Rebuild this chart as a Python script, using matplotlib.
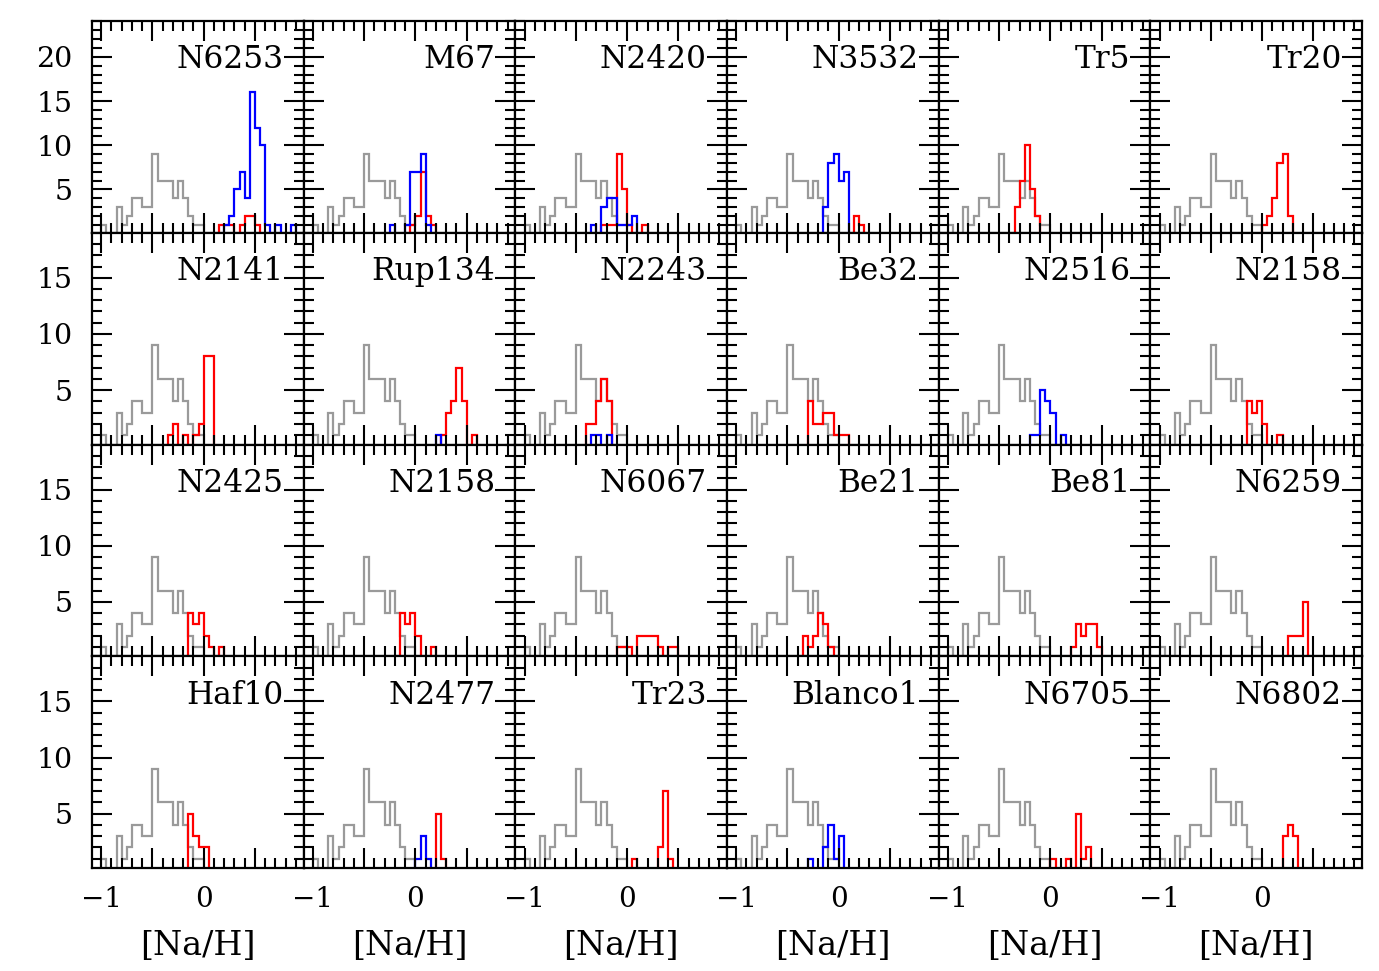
import numpy as np
import matplotlib
matplotlib.use("Agg")
import matplotlib.pyplot as plt
from matplotlib.ticker import MultipleLocator, NullFormatter

plt.rcParams['font.family'] = ['DejaVu Serif']

BIN = 0.05

names = ["N6253", "M67", "N2420", "N3532", "Tr5", "Tr20",
         "N2141", "Rup134", "N2243", "Be32", "N2516", "N2158",
         "N2425", "N2158", "N6067", "Be21", "Be81", "N6259",
         "Haf10", "N2477", "Tr23", "Blanco1", "N6705", "N6802"]

# reference (grey) distribution, same in every panel
gray_start = -1.0
gray_counts = [1, 0, 0, 3, 1, 2, 4, 4, 3, 3, 9, 6, 6, 6, 4, 6, 4, 2, 1, 1]

# red histograms: first bin edge and counts
red_start = [0.15, -0.05, -0.25, 0.15, -0.35, 0.0,
             -0.35, 0.25, -0.4, -0.3, None, -0.15,
             -0.15, -0.15, -0.1, -0.35, 0.2, 0.25,
             -0.15, 0.2, 0.05, None, 0.0, 0.2]
red_counts = [[1, 1, 1, 0, 1, 2, 2, 1],
              [1, 2, 7, 2, 1],
              [1, 1, 1, 9, 5, 1, 0, 0, 1],
              [2, 1],
              [3, 6, 10, 5, 2],
              [1, 2, 4, 8, 9, 2],
              [1, 2, 0, 1, 0, 1, 2, 8, 8],
              [1, 3, 4, 7, 4, 0, 1],
              [2, 2, 4, 6, 4],
              [4, 2, 2, 3, 3, 1, 1, 1],
              None,
              [4, 3, 4, 2, 0, 0, 1],
              [4, 3, 4, 2, 1, 0, 1],
              [4, 3, 4, 2, 0, 0, 1],
              [1, 1, 1, 0, 2, 2, 2, 2, 1, 0, 1, 1],
              [2, 1, 2, 4, 3, 1],
              [1, 3, 2, 3, 3, 1],
              [2, 2, 2, 5],
              [5, 3, 2, 2],
              [5, 1],
              [1, 0, 0, 0, 0, 2, 7, 1],
              None,
              [1, 0, 0, 1, 0, 5, 1, 2],
              [3, 4, 3]]

# blue histograms: first bin edge and counts
blue_start = [0.2, -0.25, -0.35, -0.15, None, None,
              None, 0.2, -0.35, None, -0.2, None,
              None, None, None, None, None, None,
              None, 0.0, None, -0.3, None, None]
blue_counts = [[1, 2, 5, 7, 4, 16, 12, 10, 1, 0, 1, 0, 0, 1],
               [1, 0, 0, 1, 7, 7, 9, 1],
               [1, 0, 3, 4, 4, 1, 1, 1, 2],
               [3, 8, 9, 6, 7],
               None, None,
               None,
               [1],
               [1, 1, 0, 1],
               None,
               [1, 1, 5, 4, 3, 0, 1],
               None,
               None, None, None, None, None, None,
               None,
               [1, 3, 1],
               None,
               [1, 0, 0, 2, 4, 1, 3],
               None, None]

XLIM = (-1.09, 0.975)
YLIM_TOP = (0.1, 24.05)
YLIM = (0.14, 19.0)

fig = plt.figure(figsize=(13.79, 9.71), dpi=100)
axes = fig.subplots(4, 6)
fig.subplots_adjust(left=92/1379, right=1362/1379, top=1-21/971,
                    bottom=1-868.3/971, wspace=0, hspace=0)


def edges_for(start, counts):
    return start + BIN * np.arange(len(counts) + 1)


for i, ax in enumerate(axes.flat):
    row, col = divmod(i, 6)
    ax.stairs(gray_counts, edges_for(gray_start, gray_counts),
              color='#9a9a9a', lw=1.6)
    if red_counts[i] is not None:
        ax.stairs(red_counts[i], edges_for(red_start[i], red_counts[i]),
                  color='#ff0000', lw=1.6)
    if blue_counts[i] is not None:
        ax.stairs(blue_counts[i], edges_for(blue_start[i], blue_counts[i]),
                  color='#0000ff', lw=1.6)

    ax.set_xlim(*XLIM)
    ax.set_ylim(*(YLIM_TOP if row == 0 else YLIM))

    ax.xaxis.set_major_locator(MultipleLocator(0.5))
    ax.xaxis.set_minor_locator(MultipleLocator(0.1))
    ax.yaxis.set_major_locator(MultipleLocator(5))
    ax.yaxis.set_minor_locator(MultipleLocator(1))
    ax.tick_params(which='both', direction='in', top=True, right=True,
                   width=1.5, colors='black')
    ax.tick_params(which='major', length=14.5)
    ax.tick_params(which='minor', length=7.2)
    ax.tick_params(axis='x', which='major', pad=13, labelsize=20)
    ax.tick_params(axis='y', which='major', pad=14, labelsize=20.5)
    for s in ax.spines.values():
        s.set_linewidth(1.6)

    if col == 0:
        ax.yaxis.set_major_formatter(plt.FuncFormatter(
            lambda v, p: '' if v <= 0 else f'{int(v)}'))
    else:
        ax.yaxis.set_major_formatter(NullFormatter())

    if row == 3:
        ax.xaxis.set_major_formatter(plt.FuncFormatter(
            lambda v, p: '\u22121' if abs(v + 1) < 1e-6 else ('0' if abs(v) < 1e-6 else '')))
        ax.set_xlabel('[Na/H]', fontsize=24, labelpad=12)
    else:
        ax.xaxis.set_major_formatter(NullFormatter())

    ax.text(0.905, 0.778, names[i], transform=ax.transAxes, ha='right',
            va='baseline', fontsize=22.5)

fig.savefig('out.png', dpi=100)
